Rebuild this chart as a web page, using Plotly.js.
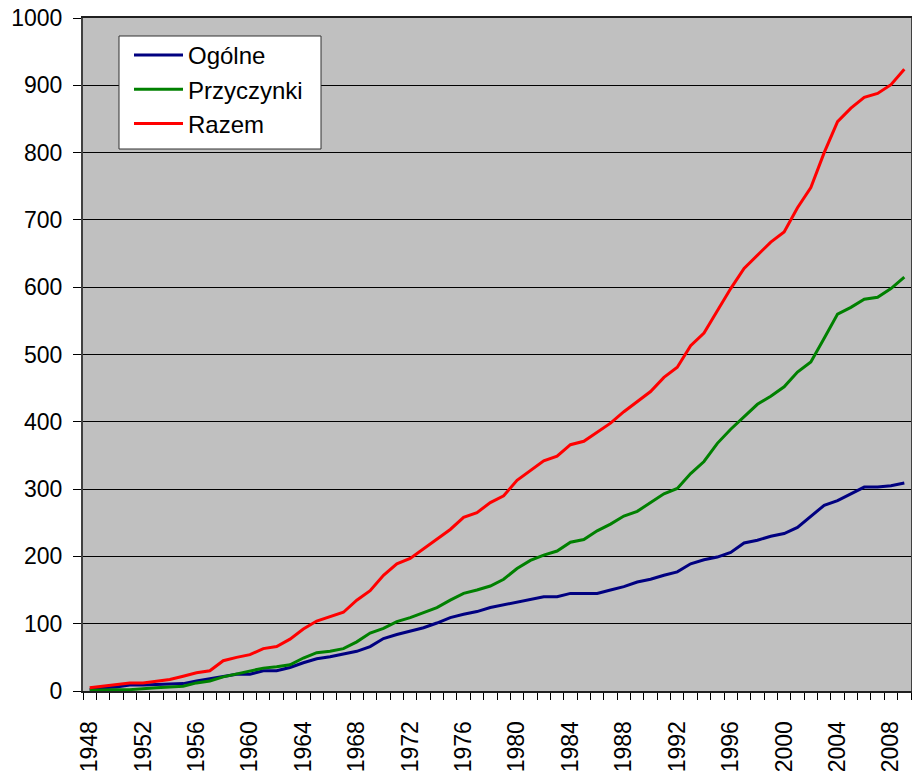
<!DOCTYPE html>
<html>
<head>
<meta charset="utf-8">
<script src="https://cdn.plot.ly/plotly-3.0.1.min.js"></script>
<style>html,body{margin:0;padding:0;background:#fff;}#chart{width:912px;height:771px;}</style>
</head>
<body>
<div id="chart"></div>
<script>
const years = [];
for (let y = 1948; y <= 2009; y++) years.push(y);

const ogolne = [2,5,6,9,9,10,10,11,15,18,22,25,25,30,30,35,42,48,51,55,59,66,78,84,89,94,101,109,114,118,124,128,
  132,135,140,140,145,145,145,150,155,162,166,172,177,189,195,199,206,220,224,230,234,243,260,276,283,293,303,303,305,309];
const przyczynki = [1,2,2,2,4,5,6,7,12,15,21,25,29,34,36,39,49,57,59,63,73,86,93,103,109,116,124,135,145,150,156,166,
  182,194,202,208,221,225,238,248,260,267,280,293,301,323,341,368,389,408,426,438,452,474,489,524,560,570,582,585,598,615];
const razem = [5,7,10,12,12,15,17,22,27,30,45,50,54,63,66,77,92,104,110,117,135,149,172,189,197,211,225,240,258,265,280,290,
  313,327,342,349,366,371,385,398,415,430,445,466,481,513,532,565,598,628,648,667,682,718,748,800,846,866,882,888,901,924];

const seriesNames = ['Ogólne', 'Przyczynki', 'Razem'];
const seriesColors = ['#000080', '#008000', '#ff0000'];
const seriesData = [ogolne, przyczynki, razem];

const labelYears = [];
for (let y = 1948; y <= 2008; y += 4) labelYears.push(y);

const traces = seriesData.map((d, i) => ({
  x: years, y: d, type: 'scatter', mode: 'lines', name: seriesNames[i],
  legendgroup: 'g' + i,
  line: {color: seriesColors[i], width: 3}
}));

// plot area: x 83..911, y 18..691 (px)
const px2x = p => (p - 83) / 828;
const px2y = p => (691 - p) / 673;

const layout = {
  width: 912, height: 771,
  margin: {l: 83, r: 1, t: 18, b: 80},
  paper_bgcolor: '#ffffff',
  plot_bgcolor: '#c0c0c0',
  font: {family: 'Liberation Sans, Arial, sans-serif', size: 23, color: '#000'},
  showlegend: true,
  legend: {
    x: px2x(129), y: px2y(33), xanchor: 'left', yanchor: 'top',
    bgcolor: 'rgba(0,0,0,0)', borderwidth: 0,
    font: {size: 24, color: '#000'},
    itemwidth: 49, tracegroupgap: 9, traceorder: 'normal'
  },
  shapes: [{
    type: 'rect', xref: 'paper', yref: 'paper',
    x0: px2x(119), x1: px2x(321), y0: px2y(149), y1: px2y(36),
    fillcolor: '#ffffff', line: {color: '#303030', width: 1}, layer: 'above'
  }],
  xaxis: {
    range: [1947.5, 2009.5],
    tickmode: 'array', tickvals: labelYears, ticktext: labelYears.map(String),
    tickangle: -90, ticks: '', ticklen: 0,
    ticklabelstandoff: 19,
    showgrid: false, zeroline: false,
    showline: true, linecolor: '#202020', linewidth: 2, mirror: true,
    minor: {tick0: 1947.5, dtick: 1, ticks: 'outside', ticklen: 7, tickcolor: '#000', tickwidth: 1, showgrid: false},
    tickfont: {size: 23}
  },
  yaxis: {
    range: [0, 1000], dtick: 100, tick0: 0,
    ticks: 'outside', ticklen: 8, tickcolor: '#000',
    ticklabelstandoff: 6,
    showgrid: true, gridcolor: '#000000', gridwidth: 1,
    zeroline: false,
    showline: true, linecolor: '#404040', linewidth: 2, mirror: true,
    tickfont: {size: 23}
  }
};

Plotly.newPlot('chart', traces, layout, {displayModeBar: false, staticPlot: true});
</script>
</body>
</html>
